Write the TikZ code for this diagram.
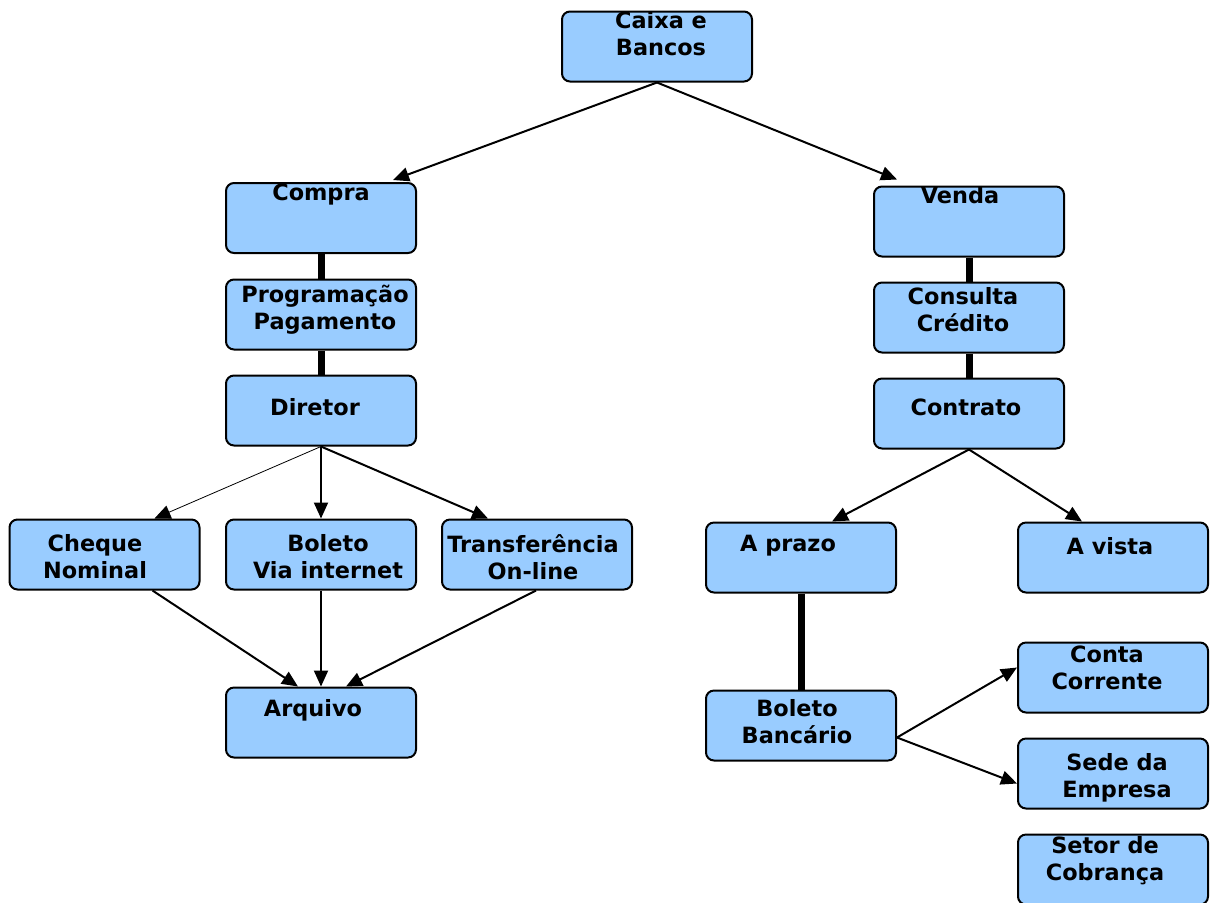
\documentclass[tikz,border=0pt]{standalone}
\usepackage{fontspec}
\setmainfont{DejaVu Sans}
\usetikzlibrary{arrows.meta,calc}
\definecolor{boxblue}{RGB}{153,204,255}
\begin{document}
\begin{tikzpicture}[x=0.5pt,y=-0.5pt,
  box/.style={draw=black,line width=1pt,fill=boxblue,rounded corners=4pt,
    minimum width=95pt,minimum height=35pt,inner sep=0pt},
  txt/.style={font=\fontsize{11.2}{13.5}\selectfont\bfseries,align=center,inner sep=0pt},
  arr/.style={line width=1pt,-{Triangle[length=8pt,width=7pt]}},
  thinarr/.style={line width=0.4pt,-{Triangle[length=8pt,width=7pt]}},
  bar/.style={line width=3.5pt}]
\useasboundingbox (0,0) rectangle (1210,902);
% boxes
\node[box] (caixa) at (657,46.5) {};
\node[box] (compra) at (321,218) {};
\node[box] (prog) at (321,314.5) {};
\node[box] (diretor) at (321,410.5) {};
\node[box] (cheque) at (104.5,554.5) {};
\node[box] (boleto) at (321,554.5) {};
\node[box] (transf) at (537,554.5) {};
\node[box] (arquivo) at (321,722.5) {};
\node[box] (venda) at (969,221.5) {};
\node[box] (consulta) at (969,317.5) {};
\node[box] (contrato) at (969,413.5) {};
\node[box] (aprazo) at (801,557.5) {};
\node[box] (avista) at (1113,557.5) {};
\node[box] (bbanc) at (801,725.5) {};
\node[box] (conta) at (1113,677.5) {};
\node[box] (sede) at (1113,773.5) {};
\node[box] (setor) at (1113,869.5) {};
% texts
\node[txt] (caixa-t) at (661,34) {Caixa e\\Bancos};
\node[txt] (compra-t) at (321,195) {Compra};
\node[txt] (prog-t) at (325,310) {Programação\\Pagamento};
\node[txt] (diretor-t) at (315,407) {Diretor};
\node[txt] (cheque-t) at (95,557) {Cheque\\Nominal};
\node[txt] (boleto-t) at (328,557) {Boleto\\Via internet};
\node[txt] (transf-t) at (533,557) {Transferência\\On-line};
\node[txt] (arquivo-t) at (313,710) {Arquivo};
\node[txt] (venda-t) at (960,195) {Venda};
\node[txt] (consulta-t) at (963,310) {Consulta\\Crédito};
\node[txt] (contrato-t) at (966,407) {Contrato};
\node[txt] (aprazo-t) at (788,546) {A prazo};
\node[txt] (avista-t) at (1110,546) {A vista};
\node[txt] (bbanc-t) at (797,722) {Boleto\\Bancário};
\node[txt] (conta-t) at (1107,668) {Conta\\Corrente};
\node[txt] (sede-t) at (1117,778) {Sede da\\Empresa};
\node[txt] (setor-t) at (1105,861) {Setor de\\Cobrança};
% connectors
\draw[arr] (caixa.south) -- ([xshift=36pt,yshift=1pt]compra.north);
\draw[arr] (caixa.south) -- ([xshift=-36pt,yshift=3pt]venda.north);
\draw[bar] (compra.south) -- (prog.north);
\draw[bar] (prog.south) -- (diretor.north);
\draw[thinarr] (diretor.south) -- ([xshift=25pt]cheque.north);
\draw[arr] (diretor.south) -- (boleto.north);
\draw[arr] (diretor.south) -- ([xshift=-24.5pt]transf.north);
\draw[arr] ([xshift=24pt]cheque.south) -- ([xshift=-11.5pt]arquivo.north);
\draw[arr] (boleto.south) -- (arquivo.north);
\draw[arr] ([xshift=-0.5pt]transf.south) -- ([xshift=12.5pt]arquivo.north);
\draw[bar] (venda.south) -- (consulta.north);
\draw[bar] (consulta.south) -- (contrato.north);
\draw[arr] (contrato.south) -- ([xshift=15.5pt]aprazo.north);
\draw[arr] (contrato.south) -- ([xshift=-15.5pt]avista.north);
\draw[bar] (aprazo.south) -- (bbanc.north);
\draw[arr] ([yshift=-6pt]bbanc.east) -- ([yshift=5pt]conta.west);
\draw[arr] ([yshift=-6pt]bbanc.east) -- ([yshift=-5pt]sede.west);
\end{tikzpicture}
\end{document}
